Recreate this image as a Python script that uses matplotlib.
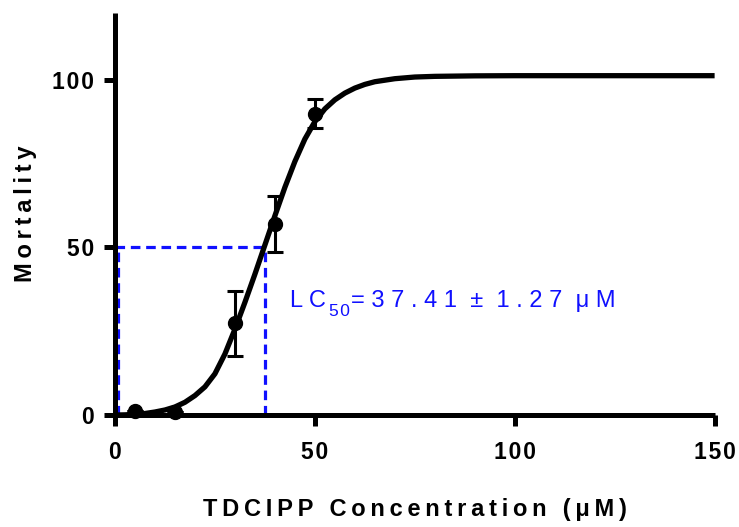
"""
TDCIPP mortality dose-response with LC50 marker
"""

import matplotlib
matplotlib.use('Agg')
import matplotlib.pyplot as plt

# measured points (mean +- sem)
conc = [5, 15, 30, 40, 50]
mort = [1.3, 0.8, 27.3, 57.0, 89.9]
mort_err = [0, 0, 9.6, 8.3, 4.4]

# fitted curve
fit_x = [0, 2.5, 5, 7.5, 10, 12.5, 15, 17.5, 20, 22.5, 25, 27.5, 30, 32.5,
         35, 37.5, 40, 42.5, 45, 47.5, 50, 52.5, 55, 57.5, 60, 62.5, 65, 70,
         75, 80, 90, 100, 125, 150]
fit_y = [0, 0.05, 0.2, 0.45, 0.9, 1.5, 2.4, 3.8, 5.8, 8.4, 12.3, 18.2, 25.6,
         33.6, 42.0, 50.7, 59.4, 67.9, 75.6, 82.3, 87.5, 91.3, 94.0, 96.0,
         97.5, 98.6, 99.4, 100.3, 100.8, 101.0, 101.15, 101.2, 101.2, 101.2]

lc50 = 37.41
lc50_err = 1.27
xticks = [0, 50, 100, 150]
yticks = [0, 50, 100]

HAIR = '\u200a'
THIN = '\u2009'

def spaced(s, sep=THIN):
    return sep.join(s)

plt.rcParams['font.family'] = ['Liberation Sans', 'DejaVu Sans']

fig = plt.figure(figsize=(7.39, 5.27), dpi=100)
ax = fig.add_axes([0.1556, 0.2125, 0.967 - 0.1556, 0.976 - 0.2125])

blue = '#1010ff'
dash = (0, (3, 1.8))
# LC50 guide lines
ax.plot([0, lc50], [50, 50], color=blue, lw=2.3, ls=dash, zorder=2)
ax.plot([lc50, lc50], [0, 50], color=blue, lw=2.3, ls=dash, zorder=2)
ax.plot([0.8, 0.8], [0, 50], color=blue, lw=2.3, ls=dash, zorder=2)

ax.plot(fit_x, fit_y, color='black', lw=3.8, zorder=3, clip_on=False,
        solid_capstyle='butt')
ax.errorbar(conc, mort, yerr=mort_err, fmt='o', color='black', ms=10,
            elinewidth=2.2, capsize=6, capthick=2.2, zorder=4, clip_on=False)

ax.set_xlim(0, 150)
ax.set_ylim(0, 120)
ax.set_xticks(xticks)
ax.set_yticks(yticks)
ax.set_xticklabels([spaced(str(t), HAIR) for t in xticks], fontsize=16.5, fontweight='bold')
ax.set_yticklabels([spaced(str(t), HAIR) for t in yticks], fontsize=16.5, fontweight='bold')

for side in ['top', 'right']:
    ax.spines[side].set_visible(False)
for side in ['left', 'bottom']:
    ax.spines[side].set_linewidth(3.6)
    ax.spines[side].set_capstyle('butt')
ax.tick_params(width=3.6, length=8)
ax.tick_params(axis='x', pad=11)
ax.tick_params(axis='y', pad=7)

ax.set_xlabel(spaced('TDCIPP Concentration (\u03bcM)'), fontsize=17,
              fontweight='bold', labelpad=24)
ax.set_ylabel(spaced('Mortality'), fontsize=17, fontweight='bold', labelpad=11)

# LC50 annotation, built from pieces so the subscript sits right
t1 = ax.text(43.75, 32.3, 'L C', color=blue, fontsize=17, va='baseline', ha='left')
t2 = ax.annotate('5' + HAIR + '0', xy=(1, 0), xycoords=t1, xytext=(2, -3.3),
                 textcoords='offset points', color=blue, fontsize=12.5,
                 va='baseline', ha='left')
t3 = ax.annotate('= ' + spaced('37.41', ' ') + '  \u00b1  ' + spaced('1.27', ' ')
                 + '  \u03bc M',
                 xy=(1, 0), xycoords=(t2, t1), xytext=(1.5, 0),
                 textcoords='offset points', color=blue, fontsize=17,
                 va='bottom', ha='left')

fig.savefig('out.png')
